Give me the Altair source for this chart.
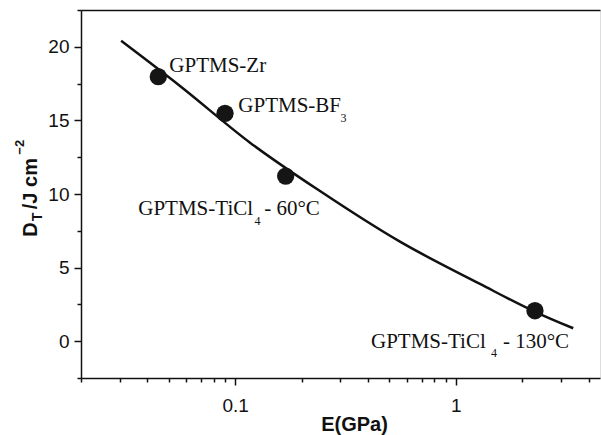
import altair as alt
import pandas as pd

# Fitted curve
curve_E = [0.0304, 0.0562, 0.1167, 0.2422, 0.558, 1.286, 2.283, 3.404]
curve_DT = [20.41, 17.34, 13.49, 10.20, 6.76, 3.89, 2.00, 0.88]

# Measured samples
samples = ["GPTMS-Zr", "GPTMS-BF3", "GPTMS-TiCl4 - 60°C", "GPTMS-TiCl4 - 130°C"]
sample_E = [0.0448, 0.0899, 0.1693, 2.283]
sample_DT = [17.97, 15.48, 11.22, 2.07]

# Ticks
x_major = [0.1, 1]
x_minor = [0.02, 0.03, 0.04, 0.05, 0.06, 0.07, 0.08, 0.09,
           0.2, 0.3, 0.4, 0.5, 0.6, 0.7, 0.8, 0.9, 2, 3, 4]
y_major = [0, 5, 10, 15, 20]
y_minor = [-2.5, 2.5, 7.5, 12.5, 17.5, 22.5]

curve = pd.DataFrame({"E": curve_E, "DT": curve_DT})
pts = pd.DataFrame({"sample": samples, "E": sample_E, "DT": sample_DT})
one = pd.DataFrame({"k": [0]})

INK = "#111111"
SANS = "Liberation Sans"
SERIF = "Liberation Serif"

xs = alt.Scale(type="log", domain=[0.02, 4.5], nice=False)
ys = alt.Scale(domain=[-2.5, 22.5], nice=False, zero=False)

x_major_axis = alt.Axis(orient="bottom", values=x_major, format="~g", grid=False,
                        tickSize=7, tickWidth=1.5, tickColor=INK,
                        domainColor=INK, domainWidth=1.5,
                        labelFont=SANS, labelFontSize=19, labelColor=INK,
                        labelPadding=11, labelFlush=False,
                        title="E(GPa)", titleFont=SANS, titleFontSize=20,
                        titleFontWeight="bold", titleColor=INK,
                        titleX=273, titleY=36.5)
y_major_axis = alt.Axis(orient="left", values=y_major, grid=False,
                        tickSize=7, tickWidth=1.5, tickColor=INK,
                        domainColor=INK, domainWidth=1.5,
                        labelFont=SANS, labelFontSize=19, labelColor=INK,
                        labelPadding=5, title=None)
x_minor_axis = alt.Axis(orient="bottom", values=x_minor, grid=False, labels=False,
                        domain=False, tickSize=4, tickWidth=1.5, tickColor=INK,
                        title=None)
y_minor_axis = alt.Axis(orient="left", values=y_minor, grid=False, labels=False,
                        domain=False, tickSize=4, tickWidth=1.5, tickColor=INK,
                        title=None)
x_top_axis = alt.Axis(orient="top", grid=False, labels=False, ticks=False,
                      domain=True, domainColor=INK, domainWidth=1.5, title=None)

line = alt.Chart(curve).mark_line(color=INK, strokeWidth=2.5, interpolate="monotone").encode(
    x=alt.X("E:Q", scale=xs, axis=x_major_axis),
    y=alt.Y("DT:Q", scale=ys, axis=y_major_axis),
)

minor = alt.Chart(pts).mark_point(opacity=0).encode(
    x=alt.X("E:Q", scale=xs, axis=x_minor_axis),
    y=alt.Y("DT:Q", scale=ys, axis=y_minor_axis),
)

top = alt.Chart(pts).mark_point(opacity=0).encode(
    x=alt.X("E:Q", scale=xs, axis=x_top_axis),
    y=alt.Y("DT:Q", scale=ys, axis=None),
)

dots = alt.Chart(pts).mark_circle(color="#151515", opacity=1, size=300).encode(
    x=alt.X("E:Q", scale=xs, axis=None),
    y=alt.Y("DT:Q", scale=ys, axis=None),
)


def label(sample, text, dx, dy, size=21):
    return alt.Chart(pts).transform_filter(alt.datum.sample == sample).mark_text(
        align="left", baseline="alphabetic", font=SERIF, fontSize=size,
        color=INK, dx=dx, dy=dy
    ).encode(
        x=alt.X("E:Q", scale=xs, axis=None),
        y=alt.Y("DT:Q", scale=ys, axis=None),
        text=alt.value(text),
    )


labels = [
    label(samples[0], "GPTMS-Zr", 11, -5),
    label(samples[1], "GPTMS-BF", 13.3, -1.6),
    label(samples[1], "3", 115.5, 8.4, 12),
    label(samples[2], "GPTMS-TiCl", -147.4, 39),
    label(samples[2], "4", -31.3, 49, 12),
    label(samples[2], "- 60°C", -21.5, 39),
    label(samples[3], "GPTMS-TiCl", -164, 37.6),
    label(samples[3], "4", -44, 46, 12),
    label(samples[3], "- 130°C", -32, 37.6),
]


def ytitle(text, dx, dy, size):
    return alt.Chart(one).mark_text(
        align="left", baseline="alphabetic", font=SANS, fontSize=size,
        fontWeight="bold", color=INK, angle=270, dx=dx, dy=dy
    ).encode(x=alt.value(-44), y=alt.value(226.7), text=alt.value(text))


ytitles = [
    ytitle("D", 0, 0, 20),
    ytitle("T", 15.5, 5, 14),
    ytitle("/J cm", 27.5, 0, 20),
    ytitle("\u22122", 82, -13, 13),
]

chart = alt.layer(line, minor, top, dots, *labels, *ytitles).resolve_axis(
    x="independent", y="independent"
).properties(
    width=519, height=368,
    autosize=alt.AutoSizeParams(type="none"),
    padding={"left": 81, "top": 10, "right": 1, "bottom": 57},
).configure_view(stroke=None).configure(background="white")

chart.save("out.html", embed_options={"renderer": "svg", "actions": False})
